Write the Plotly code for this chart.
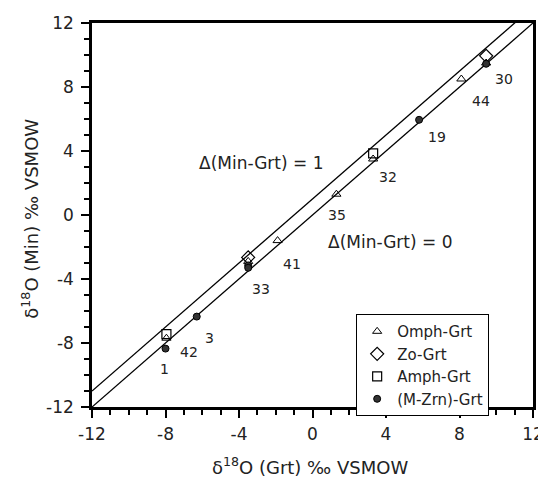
import plotly.graph_objects as go

# Data (delta18O Grt, delta18O Min)
omph_x = [9.45, 8.1, 3.3, 1.3, -1.9, -3.5, -7.95]
omph_y = [9.5, 8.5, 3.5, 1.3, -1.6, -2.9, -7.7]
zo_x = [9.45, -3.5]
zo_y = [9.95, -2.65]
amph_x = [3.3, -7.95]
amph_y = [3.85, -7.45]
mzrn_x = [9.45, 5.8, -3.5, -3.5, -6.3, -8.0]
mzrn_y = [9.45, 5.95, -3.15, -3.3, -6.35, -8.35]

sample_labels = ["30", "44", "19", "32", "35", "41", "33", "3", "42", "1"]
label_x = [10.42, 9.17, 6.78, 4.11, 1.33, -1.12, -2.80, -5.63, -6.72, -8.03]
label_y = [8.5, 7.12, 4.87, 2.37, 0.0, -3.06, -4.62, -7.69, -8.56, -9.63]

tick_vals = [-12, -8, -4, 0, 4, 8, 12]
tick_text = ["-12", "-8", "-4", "0", "4", "8", "12"]

line_x = [-12, 12]
offsets = [0, 1]

font = "DejaVu Sans"
txt = "#222222"
fig = go.Figure()

for off in offsets:
    fig.add_trace(go.Scatter(x=line_x, y=[v + off for v in line_x], mode="lines",
                             line=dict(color="black", width=1.3), showlegend=False,
                             hoverinfo="skip"))

fig.add_trace(go.Scatter(x=omph_x, y=omph_y, mode="markers", name="Omph-Grt",
                         marker=dict(symbol="triangle-up-open", size=8, color="black",
                                     line=dict(width=1))))
fig.add_trace(go.Scatter(x=zo_x, y=zo_y, mode="markers", name="Zo-Grt",
                         marker=dict(symbol="diamond-open", size=10, color="black",
                                     line=dict(width=1.2))))
fig.add_trace(go.Scatter(x=amph_x, y=amph_y, mode="markers", name="Amph-Grt",
                         marker=dict(symbol="square-open", size=9, color="black",
                                     line=dict(width=1.2))))
fig.add_trace(go.Scatter(x=mzrn_x, y=mzrn_y, mode="markers", name="(M-Zrn)-Grt",
                         marker=dict(symbol="circle", size=7, color="#333333",
                                     line=dict(width=1, color="black"))))

annotations = []
for t, x, y in zip(sample_labels, label_x, label_y):
    annotations.append(dict(x=x, y=y, text=t, showarrow=False,
                            font=dict(family=font, size=14, color=txt)))
annotations.append(dict(x=-2.75, y=3.25, text="Δ(Min-Grt) = 1", showarrow=False,
                        font=dict(family=font, size=17, color=txt)))
annotations.append(dict(x=4.22, y=-1.69, text="Δ(Min-Grt) = 0", showarrow=False,
                        font=dict(family=font, size=17, color=txt)))
# axis titles
annotations.append(dict(xref="paper", yref="paper", x=0.494, y=-0.154,
                        xanchor="center", yanchor="middle", showarrow=False,
                        text="δ<sup>18</sup>O (Grt) ‰ VSMOW",
                        font=dict(family=font, size=18, color=txt)))
annotations.append(dict(xref="paper", yref="paper", x=-0.141, y=0.49,
                        xanchor="center", yanchor="middle", showarrow=False, textangle=-90,
                        text="δ<sup>18</sup>O (Min) ‰ VSMOW",
                        font=dict(family=font, size=18, color=txt)))

axis_common = dict(range=[-12, 12], tickvals=tick_vals, ticktext=tick_text,
                   ticks="outside", ticklen=8, tickwidth=2, tickcolor="black",
                   showline=True, linewidth=2.5, linecolor="black", mirror=True,
                   showgrid=False, zeroline=False, automargin=False,
                   minor=dict(dtick=1, ticks="outside", ticklen=5, tickwidth=2,
                              tickcolor="black", showgrid=False),
                   tickfont=dict(family=font, size=17, color=txt))

fig.update_layout(
    width=538, height=474,
    margin=dict(l=84, r=13, t=15, b=75),
    plot_bgcolor="white", paper_bgcolor="white",
    xaxis=dict(**axis_common, ticklabelstandoff=2),
    yaxis=dict(**axis_common, ticklabelstandoff=4),
    legend=dict(x=0.599, y=0.242, xanchor="left", yanchor="top",
                bordercolor="black", borderwidth=1, bgcolor="white",
                font=dict(family=font, size=15, color=txt),
                itemwidth=30, tracegroupgap=0, entrywidth=150,
                entrywidthmode="pixels"),
    annotations=annotations,
)

fig.write_html("out.html")
